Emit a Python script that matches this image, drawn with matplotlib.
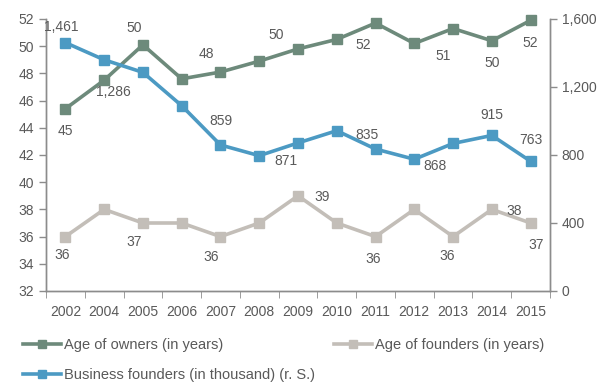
import matplotlib
matplotlib.use("Agg")
import matplotlib.pyplot as plt
from matplotlib.lines import Line2D

plt.rcParams["font.family"] = ["Liberation Sans", "DejaVu Sans"]

# Data
years = ["2002", "2004", "2005", "2006", "2007", "2008", "2009",
         "2010", "2011", "2012", "2013", "2014", "2015"]
age_owners = [45.4, 47.5, 50.1, 47.6, 48.1, 48.9, 49.8, 50.5, 51.7, 50.2, 51.3, 50.4, 51.9]
age_founders = [36, 38, 37, 37, 36, 37, 39, 37, 36, 38, 36, 38, 37]
founders_k = [1461, 1360, 1286, 1090, 859, 796, 871, 943, 835, 775, 868, 915, 763]

# (index, text, dx, dy) in points
owner_labels = [(0, "45", 0, -16), (2, "50", -6, 12), (4, "48", -10, 13), (6, "50", -16, 10),
                (8, "52", -9, -16), (10, "51", -7, -20), (11, "50", 0, -16), (12, "52", 0, -16)]
founder_labels = [(0, "36", -2, -13), (2, "37", -6, -14), (4, "36", -7, -15), (6, "39", 17, -1),
                  (8, "36", -2, -16), (10, "36", -4, -14), (11, "38", 16, -1), (12, "37", 4, -16)]
business_labels = [(0, "1,461", -3, 11), (2, "1,286", -21, -14), (4, "859", 0, 17), (6, "871", -9, -13),
                   (8, "835", -6, 10), (10, "868", -13, -16), (11, "915", 0, 15), (12, "763", 0, 15)]

c_owner = "#6d8a7b"
c_found = "#c3beb8"
c_blue = "#4c9ac3"
c_text = "#595959"
c_axis = "#8c8c8c"
fs = 10

fig = plt.figure(figsize=(6.06, 3.83), dpi=100)
ax = fig.add_axes([46 / 606, 1 - 291 / 383, 504 / 606, 272 / 383])
ax2 = ax.twinx()

x = list(range(len(years)))
lw = 2.6
ms = 6.5
ax.plot(x, age_owners, color=c_owner, lw=lw, marker="s", ms=ms, zorder=3, clip_on=False)
ax.plot(x, age_founders, color=c_found, lw=lw, marker="s", ms=ms, zorder=3, clip_on=False)
ax2.plot(x, founders_k, color=c_blue, lw=lw, marker="s", ms=ms, zorder=3, clip_on=False)

ax.set_xlim(-0.5, len(years) - 0.5)
ax.set_ylim(32, 52)
ax.set_yticks(range(32, 53, 2))
ax2.set_ylim(0, 1600)
ax2.set_yticks([0, 400, 800, 1200, 1600])
ax2.set_yticklabels(["0", "400", "800", "1,200", "1,600"])

ax.set_xticks(x)
ax.set_xticklabels(years)
ax.set_xticks([i - 0.5 for i in range(len(years) + 1)], minor=True)
ax.tick_params(axis="x", which="major", length=0, pad=10)
ax.tick_params(axis="x", which="minor", length=5, color=c_axis)

for a in (ax, ax2):
    a.spines["top"].set_visible(False)
    for s in ("left", "right", "bottom"):
        a.spines[s].set_color(c_axis)
        a.spines[s].set_linewidth(1.0)
    a.tick_params(labelsize=fs, labelcolor=c_text, color=c_axis, width=1.0)
ax.tick_params(axis="y", length=5)
ax2.tick_params(axis="y", length=5)

def annotate(axis, values, labels):
    for i, txt, dx, dy in labels:
        axis.annotate(txt, (i, values[i]), xytext=(dx, dy), textcoords="offset points",
                      ha="center", va="center", fontsize=fs, color=c_text, zorder=5)

annotate(ax, age_owners, owner_labels)
annotate(ax, age_founders, founder_labels)
annotate(ax2, founders_k, business_labels)

# Legend
handles = [Line2D([], [], color=c_owner, lw=lw, marker="s", ms=5.5),
           Line2D([], [], color=c_found, lw=lw, marker="s", ms=5.5),
           Line2D([], [], color=c_blue, lw=lw, marker="s", ms=5.5)]
names = ["Age of owners (in years)", "Age of founders (in years)",
         "Business founders (in thousand) (r. S.)"]
leg_kw = dict(frameon=False, fontsize=10.5, labelcolor=c_text, handlelength=2.6,
              handletextpad=0.2, borderaxespad=0)
fig.legend(handles[:2], names[:2], loc="center left", bbox_to_anchor=(0.028, 1 - 345 / 383),
           ncol=2, columnspacing=7.6, **leg_kw)
fig.legend(handles[2:], names[2:], loc="center left", bbox_to_anchor=(0.028, 1 - 375 / 383),
           **leg_kw)

fig.savefig("out.png", dpi=100)
